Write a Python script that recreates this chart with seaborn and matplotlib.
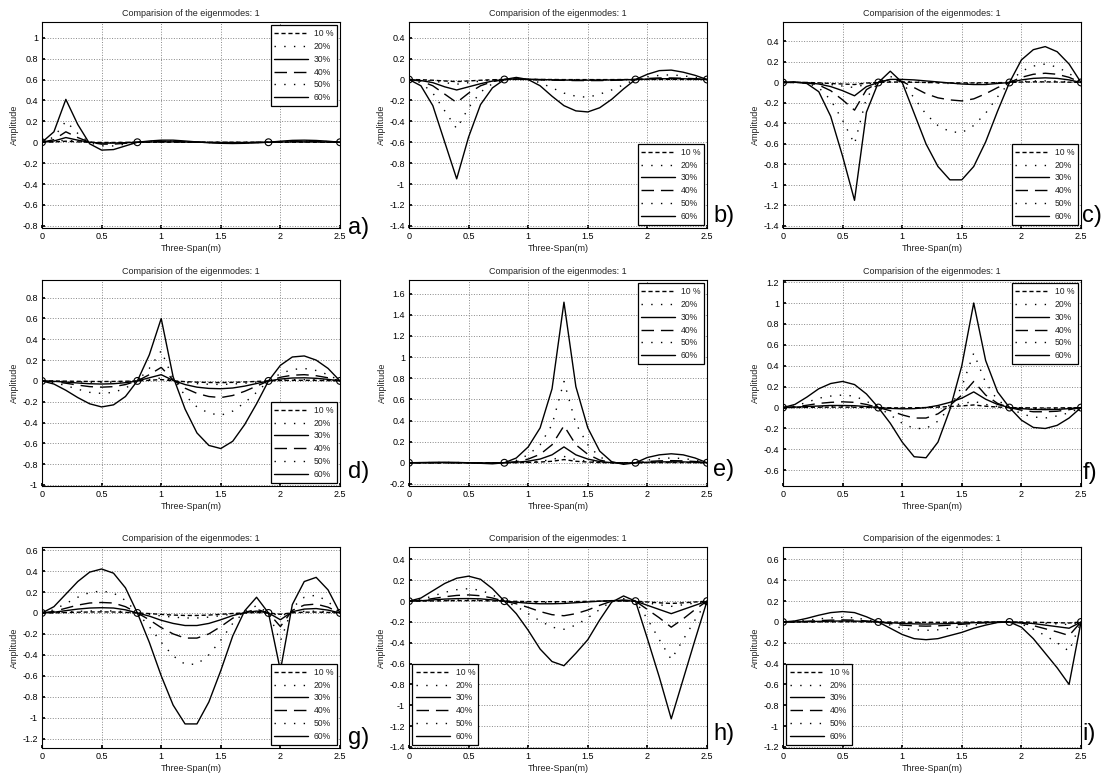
import seaborn as sns
import pandas as pd
from matplotlib import pyplot as plt
from matplotlib.ticker import FuncFormatter, MultipleLocator

# sample positions along the three-span beam (m)
span_x = [0, 0.1, 0.2, 0.3, 0.4, 0.5, 0.6, 0.7, 0.8, 0.9, 1.0, 1.1, 1.2,
          1.3, 1.4, 1.5, 1.6, 1.7, 1.8, 1.9, 2.0, 2.1, 2.2, 2.3, 2.4, 2.5]
supports_x = [0, 0.8, 1.9, 2.5]
supports_y = [0, 0, 0, 0]
damage_labels = ['10 %', '20%', '30%', '40%', '50%', '60%']

# a) damage near 0.2 m
a_10 = [0, 0.003, 0.01, 0.004, 0, -0.002, -0.002, -0.001, 0, 0, 0.001, 0.001, 0, 0, 0, 0, 0, 0, 0, 0, 0, 0.001, 0.001, 0.001, 0, 0]
a_20 = [0, 0.006, 0.02, 0.009, 0, -0.004, -0.004, -0.002, 0, 0.001, 0.002, 0.002, 0.001, 0, 0, -0.001, -0.001, -0.001, 0, 0, 0.001, 0.002, 0.002, 0.002, 0.001, 0]
a_30 = [0, 0.012, 0.045, 0.02, 0, -0.008, -0.008, -0.004, 0, 0.002, 0.004, 0.004, 0.002, 0, -0.001, -0.002, -0.002, -0.002, -0.001, 0, 0.002, 0.003, 0.004, 0.003, 0.002, 0]
a_40 = [0, 0.025, 0.1, 0.045, 0, -0.018, -0.018, -0.01, 0, 0.005, 0.008, 0.008, 0.005, 0.001, -0.002, -0.004, -0.005, -0.004, -0.002, 0, 0.004, 0.007, 0.008, 0.007, 0.004, 0]
a_50 = [0, 0.05, 0.2, 0.085, -0.005, -0.035, -0.035, -0.018, 0, 0.008, 0.012, 0.012, 0.008, 0.002, -0.003, -0.006, -0.007, -0.006, -0.003, 0, 0.006, 0.01, 0.012, 0.01, 0.006, 0]
a_60 = [0, 0.1, 0.41, 0.17, -0.015, -0.075, -0.07, -0.035, 0, 0.012, 0.02, 0.02, 0.012, 0.003, -0.005, -0.01, -0.012, -0.01, -0.005, 0, 0.01, 0.018, 0.02, 0.017, 0.01, 0]

# b) damage near 0.4 m
b_10 = [0, -0.002, -0.007, -0.014, -0.02, -0.014, -0.007, -0.002, 0, 0.001, 0, 0, 0, -0.001, -0.001, -0.001, -0.001, -0.001, 0, 0, 0.001, 0.001, 0.002, 0.001, 0.001, 0]
b_20 = [0, -0.004, -0.015, -0.03, -0.045, -0.03, -0.015, -0.005, 0, 0.002, 0.001, 0, -0.001, -0.002, -0.003, -0.003, -0.003, -0.002, -0.001, 0, 0.002, 0.003, 0.004, 0.003, 0.002, 0]
b_30 = [0, -0.01, -0.03, -0.07, -0.1, -0.07, -0.04, -0.015, 0, 0.005, 0.003, 0, -0.003, -0.005, -0.006, -0.006, -0.005, -0.004, -0.002, 0, 0.004, 0.007, 0.008, 0.007, 0.004, 0]
b_40 = [0, -0.015, -0.06, -0.14, -0.22, -0.13, -0.06, -0.02, 0, 0.005, 0, -0.003, -0.006, -0.008, -0.01, -0.01, -0.01, -0.008, -0.005, 0, 0.01, 0.015, 0.015, 0.012, 0.008, 0]
b_50 = [0, -0.03, -0.13, -0.3, -0.47, -0.27, -0.12, -0.04, 0, 0.01, 0, -0.03, -0.08, -0.13, -0.16, -0.17, -0.14, -0.1, -0.05, 0, 0.025, 0.04, 0.045, 0.035, 0.02, 0]
b_60 = [0, -0.06, -0.25, -0.6, -0.95, -0.55, -0.24, -0.08, 0, 0.02, 0, -0.06, -0.16, -0.25, -0.3, -0.31, -0.27, -0.19, -0.09, 0, 0.05, 0.085, 0.09, 0.07, 0.04, 0]

# c) damage near 0.6 m
c_10 = [0, 0, 0, -0.004, -0.01, -0.015, -0.02, -0.006, 0, 0.004, 0.004, 0.002, 0, -0.002, -0.004, -0.004, -0.004, -0.003, -0.002, 0, 0.004, 0.006, 0.006, 0.005, 0.003, 0]
c_20 = [0, 0, -0.001, -0.008, -0.02, -0.035, -0.05, -0.015, 0, 0.01, 0.01, 0.005, 0, -0.005, -0.01, -0.01, -0.01, -0.008, -0.004, 0, 0.01, 0.015, 0.015, 0.012, 0.008, 0]
c_30 = [0, 0.001, -0.002, -0.015, -0.04, -0.08, -0.13, -0.04, 0, 0.03, 0.03, 0.025, 0.015, 0.005, -0.005, -0.015, -0.02, -0.02, -0.01, 0, 0.025, 0.04, 0.045, 0.04, 0.025, 0]
c_40 = [0, 0.002, -0.003, -0.025, -0.08, -0.17, -0.27, -0.07, 0, 0.03, 0.01, -0.05, -0.11, -0.15, -0.17, -0.18, -0.16, -0.11, -0.05, 0, 0.05, 0.08, 0.09, 0.08, 0.05, 0]
c_50 = [0, 0.003, -0.005, -0.05, -0.17, -0.37, -0.6, -0.15, 0, 0.06, 0, -0.15, -0.31, -0.42, -0.48, -0.49, -0.42, -0.3, -0.14, 0, 0.11, 0.16, 0.18, 0.15, 0.09, 0]
c_60 = [0, 0.005, -0.01, -0.09, -0.33, -0.72, -1.15, -0.29, 0, 0.11, 0, -0.3, -0.6, -0.82, -0.95, -0.95, -0.82, -0.58, -0.28, 0, 0.22, 0.32, 0.35, 0.3, 0.18, 0]

# d) damage near 1.0 m
d_10 = [0, -0.001, -0.002, -0.004, -0.005, -0.006, -0.005, -0.003, 0, 0.006, 0.013, 0.001, -0.007, -0.012, -0.015, -0.016, -0.014, -0.01, -0.005, 0, 0.004, 0.006, 0.006, 0.005, 0.003, 0]
d_20 = [0, -0.002, -0.005, -0.009, -0.012, -0.013, -0.012, -0.008, 0, 0.012, 0.028, 0.002, -0.015, -0.026, -0.032, -0.034, -0.03, -0.022, -0.011, 0, 0.008, 0.012, 0.013, 0.011, 0.007, 0]
d_30 = [0, -0.004, -0.011, -0.02, -0.027, -0.03, -0.027, -0.017, 0, 0.03, 0.06, 0.005, -0.035, -0.06, -0.072, -0.075, -0.068, -0.05, -0.025, 0, 0.018, 0.028, 0.03, 0.025, 0.015, 0]
d_40 = [0, -0.008, -0.022, -0.04, -0.055, -0.06, -0.055, -0.035, 0, 0.06, 0.13, 0.01, -0.07, -0.12, -0.15, -0.16, -0.14, -0.1, -0.05, 0, 0.035, 0.055, 0.06, 0.05, 0.03, 0]
d_50 = [0, -0.015, -0.045, -0.08, -0.11, -0.12, -0.11, -0.07, 0, 0.12, 0.29, 0.02, -0.14, -0.25, -0.31, -0.33, -0.29, -0.21, -0.11, 0, 0.07, 0.11, 0.12, 0.1, 0.06, 0]
d_60 = [0, -0.03, -0.09, -0.16, -0.22, -0.25, -0.23, -0.15, 0, 0.25, 0.6, 0.04, -0.27, -0.5, -0.62, -0.65, -0.58, -0.42, -0.22, 0, 0.15, 0.23, 0.24, 0.2, 0.12, 0]

# e) damage near 1.3 m
e_10 = [0, 0, 0, 0, 0, 0, 0, 0, 0, 0.001, 0.003, 0.007, 0.014, 0.03, 0.014, 0.007, 0.002, 0, 0, 0, 0.001, 0.002, 0.002, 0.002, 0.001, 0]
e_20 = [0, 0, 0, 0, 0, 0, 0, 0, 0, 0.002, 0.006, 0.014, 0.03, 0.06, 0.03, 0.014, 0.005, 0, -0.001, 0, 0.002, 0.003, 0.004, 0.003, 0.002, 0]
e_30 = [0, 0, 0, 0.001, 0, 0, -0.001, -0.001, 0, 0.005, 0.015, 0.035, 0.075, 0.15, 0.075, 0.035, 0.011, 0.001, -0.002, 0, 0.005, 0.008, 0.009, 0.008, 0.005, 0]
e_40 = [0, 0, 0.001, 0.001, 0.001, 0, -0.001, -0.002, 0, 0.01, 0.035, 0.08, 0.17, 0.35, 0.17, 0.08, 0.025, 0.003, -0.004, 0, 0.012, 0.018, 0.02, 0.018, 0.012, 0]
e_50 = [0, 0.001, 0.002, 0.003, 0.002, 0, -0.003, -0.005, 0, 0.022, 0.075, 0.17, 0.36, 0.77, 0.37, 0.17, 0.055, 0.005, -0.008, 0, 0.025, 0.04, 0.045, 0.04, 0.025, 0]
e_60 = [0, 0.002, 0.004, 0.005, 0.003, 0, -0.005, -0.01, 0, 0.045, 0.15, 0.33, 0.7, 1.52, 0.72, 0.33, 0.11, 0.01, -0.015, 0, 0.05, 0.075, 0.085, 0.075, 0.045, 0]

# f) damage near 1.6 m
f_10 = [0, 0.001, 0.002, 0.003, 0.004, 0.004, 0.003, 0.002, 0, -0.002, -0.003, -0.002, 0, 0.004, 0.01, 0.016, 0.025, 0.013, 0.005, 0, -0.002, -0.003, -0.004, -0.003, -0.002, 0]
f_20 = [0, 0.002, 0.005, 0.007, 0.008, 0.008, 0.007, 0.004, 0, -0.004, -0.006, -0.005, 0, 0.008, 0.02, 0.035, 0.06, 0.03, 0.01, 0, -0.004, -0.007, -0.008, -0.007, -0.004, 0]
f_30 = [0, 0.004, 0.01, 0.015, 0.02, 0.02, 0.018, 0.01, 0, -0.008, -0.012, -0.01, 0, 0.02, 0.05, 0.09, 0.15, 0.08, 0.03, 0, -0.01, -0.018, -0.02, -0.018, -0.01, 0]
f_40 = [0, 0.007, 0.022, 0.04, 0.05, 0.055, 0.05, 0.03, 0, -0.03, -0.07, -0.1, -0.1, -0.06, 0.02, 0.12, 0.25, 0.12, 0.04, 0, -0.025, -0.04, -0.04, -0.035, -0.02, 0]
f_50 = [0, 0.015, 0.05, 0.09, 0.11, 0.12, 0.11, 0.06, 0, -0.07, -0.15, -0.2, -0.2, -0.13, 0, 0.2, 0.52, 0.24, 0.07, 0, -0.06, -0.09, -0.1, -0.08, -0.05, 0]
f_60 = [0, 0.03, 0.1, 0.18, 0.23, 0.25, 0.22, 0.13, 0, -0.15, -0.33, -0.47, -0.48, -0.33, -0.02, 0.4, 1.0, 0.45, 0.15, 0, -0.12, -0.19, -0.2, -0.17, -0.1, 0]

# g) damage near 1.25 m and 2.0 m
g_10 = [0, 0.001, 0.004, 0.007, 0.009, 0.01, 0.009, 0.006, 0, -0.006, -0.014, -0.02, -0.024, -0.024, -0.02, -0.013, -0.005, 0, 0.004, 0, -0.013, 0.002, 0.007, 0.008, 0.005, 0]
g_20 = [0, 0.003, 0.009, 0.015, 0.019, 0.02, 0.019, 0.012, 0, -0.012, -0.028, -0.04, -0.048, -0.048, -0.04, -0.026, -0.01, 0.001, 0.007, 0, -0.026, 0.005, 0.015, 0.017, 0.011, 0]
g_30 = [0, 0.007, 0.022, 0.037, 0.047, 0.05, 0.047, 0.03, 0, -0.03, -0.07, -0.1, -0.12, -0.12, -0.1, -0.065, -0.025, 0.003, 0.018, 0, -0.065, 0.012, 0.037, 0.042, 0.027, 0]
g_40 = [0, 0.015, 0.045, 0.075, 0.095, 0.1, 0.095, 0.06, 0, -0.065, -0.14, -0.2, -0.24, -0.24, -0.2, -0.13, -0.05, 0.005, 0.035, 0, -0.13, 0.025, 0.075, 0.085, 0.055, 0]
g_50 = [0, 0.03, 0.09, 0.15, 0.195, 0.21, 0.19, 0.12, 0, -0.13, -0.28, -0.41, -0.49, -0.49, -0.4, -0.26, -0.1, 0.01, 0.07, 0, -0.27, 0.05, 0.15, 0.17, 0.11, 0]
g_60 = [0, 0.06, 0.18, 0.3, 0.39, 0.42, 0.38, 0.24, 0, -0.28, -0.6, -0.88, -1.06, -1.06, -0.85, -0.55, -0.22, 0.02, 0.15, 0, -0.55, 0.08, 0.3, 0.34, 0.22, 0]

# h) damage near 1.25 m and 2.2 m
h_10 = [0, 0.001, 0.002, 0.004, 0.005, 0.005, 0.005, 0.002, 0, -0.002, -0.004, -0.005, -0.005, -0.005, -0.004, -0.002, 0, 0.001, 0.001, 0, -0.008, -0.016, -0.022, -0.016, -0.008, 0]
h_20 = [0, 0.002, 0.005, 0.008, 0.01, 0.011, 0.01, 0.005, 0, -0.004, -0.009, -0.012, -0.012, -0.011, -0.008, -0.004, 0, 0.002, 0.002, 0, -0.017, -0.035, -0.05, -0.035, -0.017, 0]
h_30 = [0, 0.004, 0.012, 0.02, 0.024, 0.025, 0.022, 0.012, 0, -0.01, -0.02, -0.025, -0.025, -0.022, -0.015, -0.008, 0, 0.005, 0.005, 0, -0.04, -0.08, -0.12, -0.08, -0.04, 0]
h_40 = [0, 0.008, 0.025, 0.042, 0.055, 0.06, 0.052, 0.03, 0, -0.025, -0.06, -0.1, -0.13, -0.14, -0.12, -0.085, -0.04, 0, 0.012, 0, -0.08, -0.16, -0.25, -0.17, -0.08, 0]
h_50 = [0, 0.015, 0.05, 0.085, 0.11, 0.12, 0.105, 0.06, 0, -0.05, -0.12, -0.19, -0.25, -0.27, -0.23, -0.16, -0.08, 0, 0.025, 0, -0.17, -0.37, -0.56, -0.37, -0.18, 0]
h_60 = [0, 0.03, 0.1, 0.17, 0.22, 0.24, 0.21, 0.12, 0, -0.12, -0.28, -0.46, -0.58, -0.62, -0.5, -0.37, -0.18, -0.01, 0.05, 0, -0.36, -0.73, -1.13, -0.75, -0.37, 0]

# i) damage near 2.4 m
i_10 = [0, 0, 0, 0.001, 0.001, 0.002, 0.002, 0.001, 0, -0.001, -0.002, -0.003, -0.003, -0.003, -0.002, -0.002, -0.001, 0, 0, 0, -0.001, -0.002, -0.005, -0.007, -0.01, 0]
i_20 = [0, 0, 0.001, 0.002, 0.003, 0.004, 0.004, 0.002, 0, -0.003, -0.006, -0.007, -0.008, -0.007, -0.006, -0.004, -0.003, -0.001, 0, 0, -0.002, -0.006, -0.012, -0.018, -0.025, 0]
i_30 = [0, 0.001, 0.003, 0.006, 0.008, 0.01, 0.009, 0.005, 0, -0.007, -0.014, -0.018, -0.02, -0.018, -0.015, -0.011, -0.007, -0.003, -0.001, 0, -0.005, -0.015, -0.03, -0.045, -0.06, 0]
i_40 = [0, 0.002, 0.007, 0.013, 0.018, 0.02, 0.018, 0.01, 0, -0.015, -0.03, -0.037, -0.04, -0.037, -0.03, -0.022, -0.014, -0.007, -0.002, 0, -0.01, -0.035, -0.065, -0.095, -0.13, 0]
i_50 = [0, 0.005, 0.016, 0.03, 0.04, 0.045, 0.04, 0.022, 0, -0.03, -0.06, -0.075, -0.08, -0.075, -0.06, -0.045, -0.028, -0.014, -0.003, 0, -0.02, -0.07, -0.13, -0.2, -0.28, 0]
i_60 = [0, 0.01, 0.035, 0.065, 0.09, 0.1, 0.09, 0.05, 0, -0.06, -0.12, -0.16, -0.17, -0.16, -0.13, -0.1, -0.06, -0.03, -0.005, 0, -0.05, -0.16, -0.3, -0.44, -0.6, 0]

# letter, series, y limits, legend place, letter height (axes fraction)
panels = [
  ('a)', [a_10, a_20, a_30, a_40, a_50, a_60], (-0.82, 1.15), 'upper right', 0.0),
  ('b)', [b_10, b_20, b_30, b_40, b_50, b_60], (-1.42, 0.55), 'lower right', 0.06),
  ('c)', [c_10, c_20, c_30, c_40, c_50, c_60], (-1.42, 0.59), 'lower right', 0.06),
  ('d)', [d_10, d_20, d_30, d_40, d_50, d_60], (-1.01, 0.97), 'lower right', 0.07),
  ('e)', [e_10, e_20, e_30, e_40, e_50, e_60], (-0.22, 1.73), 'upper right', 0.08),
  ('f)', [f_10, f_20, f_30, f_40, f_50, f_60], (-0.75, 1.22), 'upper right', 0.065),
  ('g)', [g_10, g_20, g_30, g_40, g_50, g_60], (-1.29, 0.63), 'lower right', 0.05),
  ('h)', [h_10, h_20, h_30, h_40, h_50, h_60], (-1.41, 0.52), 'lower left', 0.07),
  ('i)', [i_10, i_20, i_30, i_40, i_50, i_60], (-1.21, 0.72), 'lower left', 0.07),
]

line_dashes = {'10 %': (3, 2), '20%': (1, 6), '30%': '', '40%': (9, 5), '50%': (1, 6), '60%': ''}

sns.set_theme(style='whitegrid')
plt.rcParams.update({
  'axes.edgecolor': 'black',
  'axes.linewidth': 0.8,
  'xtick.bottom': True,
  'ytick.left': True,
  'xtick.direction': 'in',
  'ytick.direction': 'in',
  'xtick.major.size': 2,
  'ytick.major.size': 2,
  'xtick.major.pad': 3,
  'ytick.major.pad': 3,
  'xtick.labelsize': 6.5,
  'ytick.labelsize': 6.5,
  'xtick.color': 'black',
  'ytick.color': 'black',
  'text.color': '#222222',
  'axes.labelcolor': '#222222',
})
plt.rcParams['font.family'] = ['Liberation Sans', 'DejaVu Sans']

fig = plt.figure(figsize=(11.05, 7.76), dpi=100)
col_left = [42, 409, 783]
letter_x = [1.027, 1.02, 1.004]
row_span = [(22, 228), (280, 486), (547, 748)]
tickFmt = FuncFormatter(lambda v, p: f'{round(v, 2) + 0:g}')

for k, (letter, series, ylim, legLoc, letterY) in enumerate(panels):
  top, bottom = row_span[k // 3]
  ax = fig.add_axes([col_left[k % 3] / 1105, 1 - bottom / 776, 298 / 1105, (bottom - top) / 776])

  df = pd.DataFrame({
    'Span': span_x * len(series),
    'Amplitude': [v for s in series for v in s],
    'Damage': [lab for lab in damage_labels for _ in span_x],
  })
  sns.lineplot(data=df, x='Span', y='Amplitude', style='Damage', style_order=damage_labels,
               dashes=line_dashes, color='black', linewidth=1, estimator=None, ax=ax)
  sns.scatterplot(x=supports_x, y=supports_y, marker='o', s=24, facecolor='none',
                  edgecolor='black', linewidth=0.8, legend=False, zorder=5, ax=ax)

  ax.set_xlim(0, 2.5)
  ax.set_ylim(*ylim)
  ax.xaxis.set_major_locator(MultipleLocator(0.5))
  ax.yaxis.set_major_locator(MultipleLocator(0.2))
  ax.xaxis.set_major_formatter(tickFmt)
  ax.yaxis.set_major_formatter(tickFmt)
  ax.grid(True, linestyle=':', color='#888888', linewidth=0.7)
  for sp in ax.spines.values():
    sp.set_visible(True)
    sp.set_color('black')

  ax.set_title('Comparision of the eigenmodes: 1', fontsize=6.5, pad=4)
  ax.set_xlabel('Three-Span(m)', fontsize=6.5, labelpad=2)
  ax.set_ylabel('Amplitude', fontsize=6.5, labelpad=2)

  sns.move_legend(ax, legLoc, title=None, fontsize=6.2, handlelength=4, handletextpad=0.6,
                  labelspacing=0.45, borderpad=0.4, borderaxespad=0.4, frameon=True,
                  fancybox=False, framealpha=1, edgecolor='black')
  ax.get_legend().get_frame().set_linewidth(0.9)

  ax.text(letter_x[k % 3], letterY, letter, transform=ax.transAxes, fontsize=17,
          ha='left', va='center', color='black')

plt.savefig('out.png', dpi=100)
